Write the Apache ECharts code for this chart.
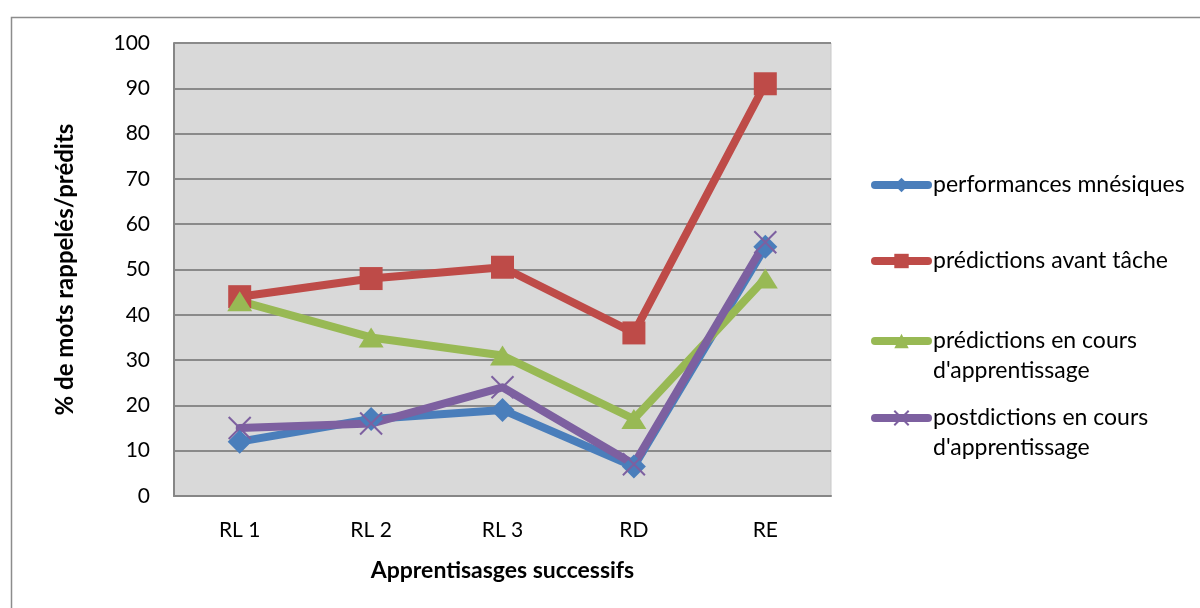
<!DOCTYPE html>
<html>
<head>
<meta charset="utf-8">
<script src="https://cdn.jsdelivr.net/npm/echarts@6/dist/echarts.min.js"></script>
<style>
  html, body { margin: 0; padding: 0; background: #ffffff; }
  #chart { width: 1200px; height: 608px; }
</style>
</head>
<body>
<div id="chart"></div>
<script>
// Successive learning phases
const categories = ['RL 1', 'RL 2', 'RL 3', 'RD', 'RE'];

// % of words recalled / predicted
const performances = [12, 17, 19, 6.5, 55];
const predictionsAvant = [44, 48, 50.5, 36, 91];
const predictionsCours = [43, 35, 31, 17, 48];
const postdictionsCours = [15, 16, 24, 7, 56];

const seriesNames = [
  'performances mnésiques',
  'prédictions avant tâche',
  'prédictions en cours\nd\'apprentissage',
  'postdictions en cours\nd\'apprentissage'
];

const FONT = 'Lato, "Noto Sans", sans-serif';
const colors = ['#4A7EBB', '#BE4B48', '#98B954', '#7D60A0'];

const chart = echarts.init(document.getElementById('chart'));

function legendFor(idx, top) {
  const multi = seriesNames[idx].indexOf('\n') >= 0;
  return {
    data: [seriesNames[idx]],
    orient: 'vertical',
    left: 866,
    top: top,
    itemWidth: 53,
    itemHeight: 18,
    itemGap: 5,
    lineStyle: { width: 8, cap: 'round' },
    // a blank first line keeps the icon level with the first text line
    formatter: multi ? (n => ' \n' + n) : (n => n),
    textStyle: {
      fontFamily: FONT,
      fontSize: 23,
      lineHeight: 30,
      color: '#000000'
    }
  };
}

const lineBase = {
  type: 'line',
  emphasis: { disabled: true },
  animation: false
};

function lineStyleOf(i) {
  return { width: 8, cap: 'round', join: 'round', color: colors[i] };
}

chart.setOption({
  backgroundColor: '#ffffff',
  color: colors,
  textStyle: { fontFamily: FONT },
  graphic: [{
    type: 'rect',
    left: 9,
    top: 15,
    shape: { width: 1400, height: 800 },
    style: { fill: 'none', stroke: '#8c8c8c', lineWidth: 1.5 },
    silent: true,
    z: -1
  }],
  grid: {
    left: 174,
    right: 369,
    top: 43,
    bottom: 112,
    show: true,
    backgroundColor: '#d9d9d9',
    borderColor: '#c8c8c8',
    borderWidth: 1
  },
  legend: [
    legendFor(0, 165),
    legendFor(1, 241),
    legendFor(2, 291),
    legendFor(3, 368)
  ],
  xAxis: {
    type: 'category',
    data: categories,
    boundaryGap: true,
    name: 'Apprentisasges successifs',
    nameLocation: 'middle',
    nameGap: 63,
    nameTextStyle: { fontFamily: FONT, fontSize: 23, fontWeight: 'bold', color: '#000' },
    axisLine: { show: true, lineStyle: { color: '#868686', width: 2 } },
    axisTick: { show: false },
    axisLabel: { fontFamily: FONT, fontSize: 21, color: '#000', margin: 24 },
    splitLine: { show: false }
  },
  yAxis: {
    type: 'value',
    min: 0,
    max: 100,
    interval: 10,
    name: '% de mots rappelés/prédits',
    nameLocation: 'middle',
    nameGap: 97,
    nameRotate: 90,
    nameTextStyle: { fontFamily: FONT, fontSize: 24, fontWeight: 'bold', color: '#000' },
    axisLine: { show: true, lineStyle: { color: '#868686', width: 2 } },
    axisTick: { show: false },
    axisLabel: { fontFamily: FONT, fontSize: 21, color: '#000', margin: 24 },
    splitLine: { show: true, lineStyle: { color: '#8a8a8a', width: 2 } }
  },
  series: [
    Object.assign({}, lineBase, {
      name: seriesNames[0],
      data: performances,
      symbol: 'diamond',
      symbolSize: 24,
      lineStyle: lineStyleOf(0),
      itemStyle: { color: colors[0] }
    }),
    Object.assign({}, lineBase, {
      name: seriesNames[1],
      data: predictionsAvant,
      symbol: 'rect',
      symbolSize: 23,
      lineStyle: lineStyleOf(1),
      itemStyle: { color: colors[1] }
    }),
    Object.assign({}, lineBase, {
      name: seriesNames[2],
      data: predictionsCours,
      symbol: 'triangle',
      symbolSize: [25, 20],
      lineStyle: lineStyleOf(2),
      itemStyle: { color: colors[2] }
    }),
    Object.assign({}, lineBase, {
      name: seriesNames[3],
      data: postdictionsCours,
      symbol: 'path://M0,0L10,10M10,0L0,10',
      symbolSize: 22,
      lineStyle: lineStyleOf(3),
      itemStyle: { color: 'none', borderColor: colors[3], borderWidth: 2 }
    })
  ]
});
</script>
</body>
</html>
